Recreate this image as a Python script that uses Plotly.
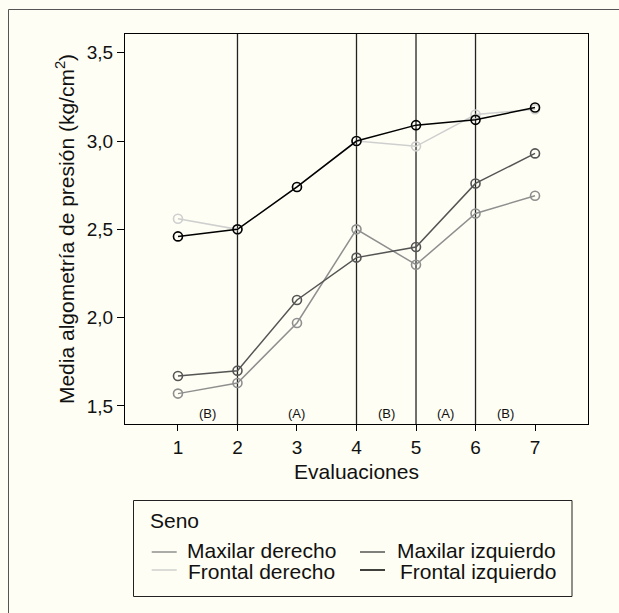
import plotly.graph_objects as go

evaluaciones = [1, 2, 3, 4, 5, 6, 7]
maxilar_derecho = [1.57, 1.63, 1.97, 2.50, 2.30, 2.59, 2.69]
maxilar_izquierdo = [1.67, 1.70, 2.10, 2.34, 2.40, 2.76, 2.93]
frontal_derecho = [2.56, 2.50, 2.74, 3.00, 2.97, 3.15, 3.18]
frontal_izquierdo = [2.46, 2.50, 2.74, 3.00, 3.09, 3.12, 3.19]

series_names = ["Maxilar derecho", "Maxilar izquierdo", "Frontal derecho", "Frontal izquierdo"]
series_colors = ["#8f8f8f", "#555555", "#cfcfcf", "#000000"]
legend_title = "Seno"

phase_lines = [2, 4, 5, 6]
phase_label_x = [1.5, 3, 4.5, 5.5, 6.5]
phase_labels = ["(B)", "(A)", "(B)", "(A)", "(B)"]
phase_label_y = 1.46

y_ticks = [1.5, 2.0, 2.5, 3.0, 3.5]

BG = "#fefef4"
FONT = "Liberation Sans, Arial, Helvetica, sans-serif"

# plot-area geometry in pixels (for converting layout positions to paper coords)
L, R, T, B, W, H = 125, 31, 34, 189, 619, 613
PW, PH = W - L - R, H - T - B


def px(xpix):
    return (xpix - L) / PW


def py(ypix):
    return (H - B - ypix) / PH


fig = go.Figure()
for name, vals, col in zip(series_names,
                           [maxilar_derecho, maxilar_izquierdo, frontal_derecho, frontal_izquierdo],
                           series_colors):
    fig.add_trace(go.Scatter(
        x=evaluaciones, y=vals, name=name, mode="lines+markers",
        line=dict(color=col, width=1.5),
        marker=dict(symbol="circle-open", size=9, color=col, line=dict(width=1.6, color=col)),
        showlegend=False,
    ))

for xv in phase_lines:
    fig.add_shape(type="line", xref="x", yref="paper", x0=xv, x1=xv, y0=0, y1=1,
                  line=dict(color="#222222", width=1.3), layer="below")

for xv, lab in zip(phase_label_x, phase_labels):
    fig.add_annotation(x=xv, y=phase_label_y, xref="x", yref="y", text=lab,
                       showarrow=False, font=dict(size=13, color="#111111", family=FONT))

# outer frame (left and top edges visible)
fig.add_shape(type="rect", xref="paper", yref="paper",
              x0=px(8.5), x1=px(640), y0=py(640), y1=py(9.5),
              line=dict(color="#555555", width=1), fillcolor="rgba(0,0,0,0)")

# legend box
fig.add_shape(type="rect", xref="paper", yref="paper",
              x0=px(133.5), x1=px(572), y0=py(596.5), y1=py(500.5),
              line=dict(color="#222222", width=1), fillcolor=BG)
fig.add_annotation(x=px(148), y=py(520.7), xref="paper", yref="paper", text=legend_title,
                   showarrow=False, xanchor="left", yanchor="middle",
                   font=dict(size=21, color="#111111", family=FONT))
legend_slots = [
    (151.7, 176.7, 552.0, 185.0, 550.0),   # Maxilar derecho
    (360.0, 385.0, 552.0, 395.0, 550.0),   # Maxilar izquierdo
    (151.7, 176.7, 570.0, 185.5, 571.0),   # Frontal derecho
    (360.0, 385.0, 570.0, 398.0, 571.0),   # Frontal izquierdo
]
for name, col, (lx0, lx1, ly, tx, ty) in zip(series_names, series_colors, legend_slots):
    fig.add_shape(type="line", xref="paper", yref="paper",
                  x0=px(lx0), x1=px(lx1), y0=py(ly), y1=py(ly),
                  line=dict(color=col, width=1.5))
    fig.add_annotation(x=px(tx), y=py(ty), xref="paper", yref="paper", text=name,
                       showarrow=False, xanchor="left", yanchor="middle",
                       font=dict(size=21, color="#111111", family=FONT))

fig.update_layout(
    width=W, height=H,
    margin=dict(l=L, r=R, t=T, b=B, autoexpand=False),
    paper_bgcolor=BG, plot_bgcolor=BG,
    separators=", ",
    showlegend=False,
    font=dict(family=FONT, size=19, color="#111111"),
    xaxis=dict(range=[0.11, 7.89], tickvals=evaluaciones, ticks="outside", ticklen=6,
               tickcolor="#000", showgrid=False, zeroline=False,
               showline=True, linecolor="#000", linewidth=1, mirror=True,
               title=dict(text="Evaluaciones", standoff=7, font=dict(size=21)),
               tickfont=dict(size=19)),
    yaxis=dict(range=[1.398, 3.606], tickvals=y_ticks, tickformat=".1f", ticks="outside",
               ticklen=7, tickcolor="#000", showgrid=False, zeroline=False,
               showline=True, linecolor="#000", linewidth=1, mirror=True,
               title=dict(text="Media algometría de presión (kg/cm<sup>2</sup>)", standoff=6,
                          font=dict(size=21)),
               tickfont=dict(size=19)),
)

fig.write_html(
    "out.html",
    config={"displayModeBar": False},
    post_script="document.body.style.margin='0px';document.body.style.background='%s';" % BG,
)
